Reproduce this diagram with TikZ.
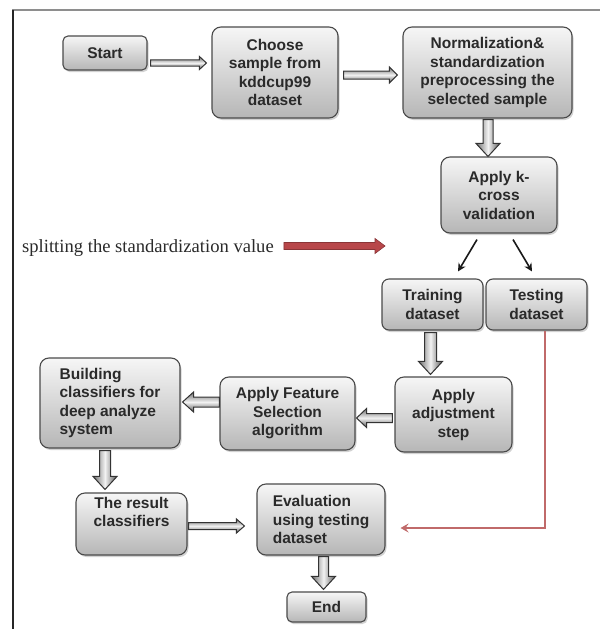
\documentclass[tikz,border=0pt]{standalone}
\usepackage{fontspec}
\setmainfont{Liberation Sans}
\newfontfamily\serifrm{Liberation Serif}
\usetikzlibrary{shadows,calc,arrows.meta}
\definecolor{boxline}{HTML}{4A4A4A}
\definecolor{boxtop}{HTML}{F6F6F6}
\definecolor{boxbot}{HTML}{B6B6B6}
\definecolor{txt}{HTML}{2A2A2A}
\definecolor{redarrow}{HTML}{B8474A}
\definecolor{redline}{HTML}{C06A6A}
\definecolor{framegray}{HTML}{8E8E8E}
\definecolor{arrowdark}{HTML}{6E6E6E}
\definecolor{arrowlight}{HTML}{F2F2F2}
\tikzset{
  box/.style={draw=boxline, line width=1.1pt, rounded corners=9pt,
    top color=boxtop, bottom color=boxbot,
    drop shadow={shadow xshift=1.5pt, shadow yshift=-2pt, opacity=0.35},
    inner sep=0pt, font=\fontsize{15.5}{18.5}\selectfont\bfseries, text=txt, align=center},
  vblkst/.style={draw=black!80, line width=1pt, left color=arrowdark, right color=arrowdark!80!black, middle color=arrowlight},
  hblkst/.style={draw=black!80, line width=1pt, top color=arrowdark, bottom color=arrowdark!80!black, middle color=arrowlight},
  redblk/.style={draw=redarrow!75!black, line width=0.6pt, fill=redarrow},
  thinarrow/.style={draw=black!90, line width=1.6pt, -{Stealth[length=8pt,width=8pt]}},
  redconn/.style={draw=redline, line width=1.3pt, -{Stealth[length=8pt,width=9pt,inset=3pt]}},
}
% vertical block arrow: from #1 (x and start y) to #2 (end y); #3 half shaft, #4 half head, #5 head length
\newcommand\vblk[5]{\path[vblkst] let \p1=(#1), \p2=(#2) in
  ({\x1-#3},\y1) -- ({\x1+#3},\y1) -- ({\x1+#3},{\y2+#5}) -- ({\x1+#4},{\y2+#5}) -- (\x1,\y2)
  -- ({\x1-#4},{\y2+#5}) -- ({\x1-#3},{\y2+#5}) -- cycle;}
% horizontal block arrow: from #2 (start x and y) to #3 (end x); #6 signed head length
\newcommand\hblk[6][hblkst]{\path[#1] let \p1=(#2), \p2=(#3) in
  (\x1,{\y1-#4}) -- ({\x2-(#6)},{\y1-#4}) -- ({\x2-(#6)},{\y1-#5}) -- (\x2,\y1) -- ({\x2-(#6)},{\y1+#5})
  -- ({\x2-(#6)},{\y1+#4}) -- (\x1,{\y1+#4}) -- cycle;}
\begin{document}
\begin{tikzpicture}[x=1pt,y=1pt]
\useasboundingbox (0,0) rectangle (600,-629);
\fill[white] (0,0) rectangle (600,-629);
% frame
\draw[framegray, line width=2pt] (12.3,-10) -- (600,-10);
\draw[black!85, line width=1.4pt] (13,-9.5) -- (13,-629);

% boxes
\node[box, minimum width=84pt, minimum height=34pt, rounded corners=5pt] (start) at (105,-53) {Start};
\node[box, minimum width=126pt, minimum height=91pt] (choose) at (275,-72.5) {Choose\\sample from\\kddcup99\\dataset};
\node[box, minimum width=169pt, minimum height=91pt] (norm) at (487.5,-72.5) {Normalization\&\\standardization\\preprocessing the\\selected sample};
\node[box, minimum width=116pt, minimum height=76pt] (applyk) at (499,-195) {Apply k-\\cross\\validation};
\node[box, minimum width=101pt, minimum height=51pt, rounded corners=7pt] (training) at (432.5,-304.5) {Training\\dataset};
\node[box, minimum width=101pt, minimum height=51pt, rounded corners=7pt] (testing) at (536.5,-304.5) {Testing\\dataset};
\node[box, minimum width=117pt, minimum height=75pt] (adjust) at (453.5,-414.5) {Apply\\adjustment\\step};
\node[box, minimum width=135pt, minimum height=73pt] (feature) at (287.5,-413.5) {Apply Feature\\Selection\\algorithm};
\node[box, minimum width=140pt, minimum height=90pt, align=left] (building) at (110,-403) {Building\\classifiers for\\deep analyze\\system};
\node[box, minimum width=111pt, minimum height=62pt] (result) at (131.5,-524) {The result\\classifiers\\[6pt]};
\node[box, minimum width=128pt, minimum height=71pt, align=left] (eval) at (321,-519.5) {Evaluation\\using testing\\dataset};
\node[box, minimum width=79pt, minimum height=30pt, rounded corners=5pt] (end) at (326.5,-607) {End};

% side text
\node[anchor=west, inner sep=0pt, text=txt, font=\serifrm\fontsize{18.6}{20}\selectfont] (split) at (22,-248) {splitting the standardization value};
\coordinate (redtip) at (385,-246);
\hblk[redblk]{$(split.east)+(10,2)$}{redtip}{3.5pt}{7.5pt}{10pt}

% horizontal block arrows
\hblk{$(start.east)+(3,-10)$}{$(choose.west)+(-5,0)$}{3.2pt}{6.5pt}{7pt}
\hblk{$(choose.east)+(5,-2.5)$}{$(norm.west)+(-5,0)$}{4pt}{8pt}{8pt}
\hblk{$(result.east)+(1,-2)$}{$(eval.west)+(-12,0)$}{3.5pt}{7pt}{8pt}
\hblk{$(adjust.west)+(-2,-3.5)$}{$(feature.east)+(1,0)$}{4.5pt}{9.5pt}{-10pt}
\hblk{$(feature.west)+(0,11.5)$}{$(building.east)+(2,0)$}{5pt}{10pt}{-11pt}

% vertical block arrows
\vblk{$(norm.south)+(0.5,-1)$}{applyk.north}{5pt}{12pt}{13pt}
\vblk{$(training.south)+(-2,-2)$}{$(adjust.north)+(0,2)$}{6pt}{12pt}{13pt}
\vblk{$(building.south)+(-5,-2)$}{$(result.north)+(0,3)$}{5.5pt}{12pt}{13pt}
\vblk{$(eval.south)+(2.5,-1)$}{$(end.north)+(0,2)$}{5pt}{12pt}{13pt}

% thin black arrows
\draw[thinarrow] ([xshift=-22pt,yshift=-6pt]applyk.south) -- ([xshift=25.5pt,yshift=7pt]training.north);
\draw[thinarrow] ([xshift=14pt,yshift=-6pt]applyk.south) -- ([xshift=-4.5pt,yshift=7pt]testing.north);

% red connector
\draw[redconn] ([xshift=8.5pt]testing.south) |- ([xshift=15pt,yshift=-8.5pt]eval.east);
\end{tikzpicture}
\end{document}
